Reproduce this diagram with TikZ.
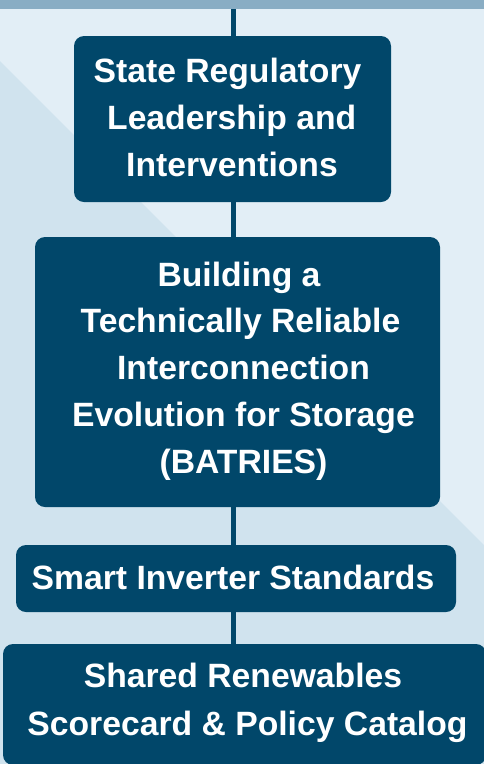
\documentclass[tikz,border=0pt]{standalone}
\usepackage{fontspec}
\setmainfont{Liberation Sans}
\definecolor{bandc}{RGB}{137,173,196}
\definecolor{lightbg}{RGB}{226,238,246}
\definecolor{darkbg}{RGB}{208,227,238}
\definecolor{boxc}{RGB}{1,71,106}
\tikzset{
  box/.style={fill=boxc, draw=none, rounded corners=10pt, inner sep=0pt, rectangle},
  lbl/.style={text=white, font=\fontsize{33.7}{40}\selectfont\bfseries, anchor=base, inner sep=0pt},
  conn/.style={draw=boxc, line width=5pt}
}
\begin{document}
\begin{tikzpicture}[x=1pt,y=-1pt]
\useasboundingbox (0,0) rectangle (484,764);
\fill[lightbg] (0,0) rectangle (484,764);
\fill[darkbg] (0,61) -- (484,545) -- (484,764) -- (0,764) -- cycle;
\fill[bandc] (0,0) rectangle (484,9);
% boxes
\node[box, minimum width=317pt, minimum height=166pt] (b1) at (232.5,119) {};
\node[box, minimum width=405pt, minimum height=270pt] (b2) at (237.5,372) {};
\node[box, minimum width=440pt, minimum height=67pt] (b3) at (236,578.5) {};
\node[box, minimum width=483pt, minimum height=121pt] (b4) at (244.5,704.5) {};
% connectors
\coordinate (top) at (233.5,9);
\draw[conn] (top) -- (top |- b1.north);
\draw[conn] (top |- b1.south) -- (top |- b2.north);
\draw[conn] (top |- b2.south) -- (top |- b3.north);
\draw[conn] (top |- b3.south) -- (top |- b4.north);
% texts
\node[lbl] (t1a) at (227.5,82) {State Regulatory};
\node[lbl] (t1b) at (231.7,129.5) {Leadership and};
\node[lbl] (t1c) at (232,176) {Interventions};
\node[lbl] (t2a) at (239,286) {Building a};
\node[lbl] (t2b) at (240.5,332.75) {Technically Reliable};
\node[lbl] (t2c) at (243.5,379.5) {Interconnection};
\node[lbl] (t2d) at (243.5,426.25) {Evolution for Storage};
\node[lbl] (t2e) at (243.5,473) {(BATRIES)};
\node[lbl] (t3a) at (233,589.3) {Smart Inverter Standards};
\node[lbl] (t4a) at (243,687.7) {Shared Renewables};
\node[lbl] (t4b) at (247.5,735.7) {Scorecard \& Policy Catalog};
\end{tikzpicture}
\end{document}
